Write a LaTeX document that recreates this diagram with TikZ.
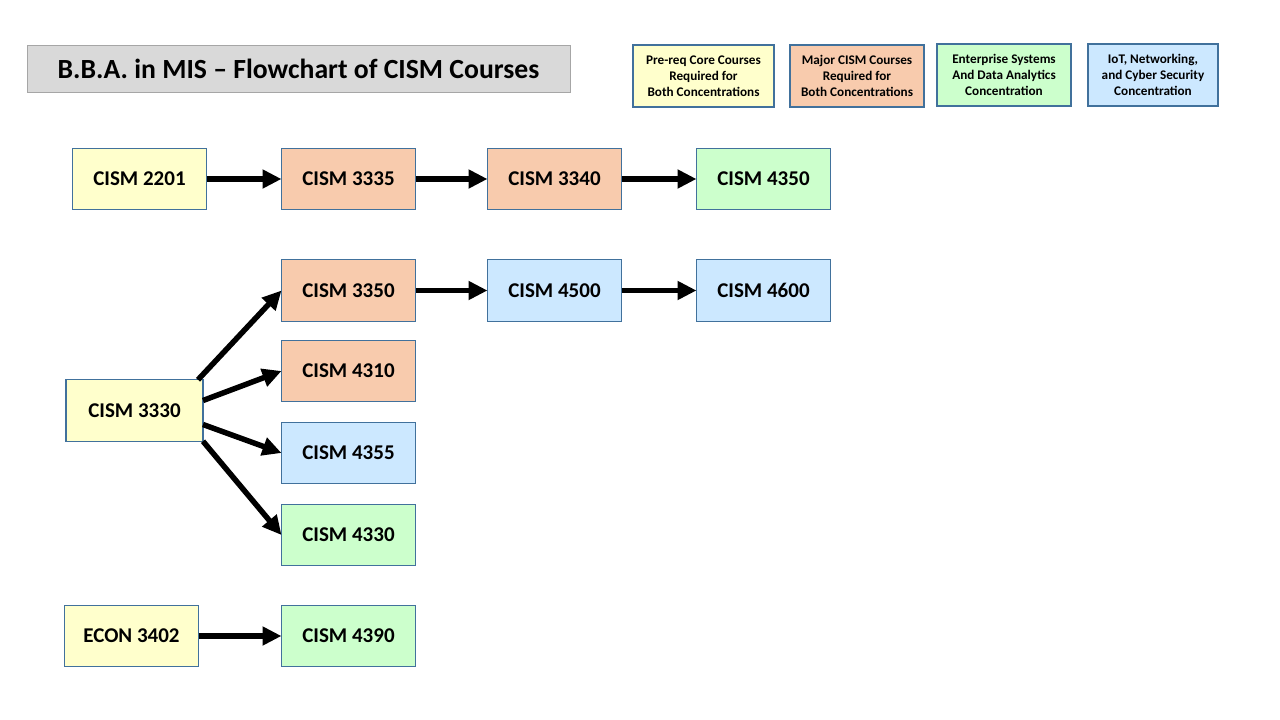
\documentclass[tikz,border=0pt]{standalone}
\usepackage{fontspec}
\setmainfont{Carlito}
\usepackage{tikz}
\usetikzlibrary{arrows.meta,positioning}
\definecolor{edge}{HTML}{41719C}
\definecolor{prereq}{HTML}{FFFFCC}
\definecolor{major}{HTML}{F8CBAD}
\definecolor{ent}{HTML}{CCFFCC}
\definecolor{iot}{HTML}{CCE8FF}
\definecolor{titlegray}{HTML}{D9D9D9}

\begin{document}
\begin{tikzpicture}[x=1pt,y=-1pt,
  node distance=19pt and 73pt,
  course/.style={draw=edge,line width=1.2pt,minimum width=134pt,minimum height=61.5pt,
    inner sep=0pt,outer sep=0pt,font=\bfseries\fontsize{21}{25}\selectfont},
  legend/.style={draw=edge,line width=1.2pt,minimum width=134pt,minimum height=62pt,
    inner sep=0pt,outer sep=0pt,align=center,font=\bfseries\fontsize{13.2}{16}\selectfont},
  arr/.style={-{Triangle[length=19pt,width=18pt]},line width=5.5pt}]
\useasboundingbox (0,0) rectangle (1280,720);
% title and legend
\node[draw=gray!70,fill=titlegray,minimum width=543pt,minimum height=47pt,
  font=\bfseries\fontsize{27.7}{32}\selectfont] (title) at (298.5,68.5)
  {B.B.A. in MIS -- Flowchart of CISM Courses};
\node[legend,fill=prereq,minimum width=141pt] (lgpre) at (703.5,76)
  {Pre-req Core Courses\\Required for\\Both Concentrations};
\node[legend,fill=major] (lgmaj) at (857,76)
  {Major CISM Courses\\Required for\\Both Concentrations};
\node[legend,fill=ent] (lgent) at (1004,75)
  {Enterprise Systems\\And Data Analytics\\Concentration};
\node[legend,fill=iot,minimum width=130pt] (lgiot) at (1153,75)
  {IoT, Networking,\\and Cyber Security\\Concentration};
% courses
\node[course,fill=prereq] (c2201) at (139.5,179) {CISM 2201};
\node[course,fill=major,right=75pt of c2201] (c3335) {CISM 3335};
\node[course,fill=major,right=72pt of c3335] (c3340) {CISM 3340};
\node[course,fill=ent,right=75pt of c3340] (c4350) {CISM 4350};
\node[course,fill=major,below=50pt of c3335] (c3350) {CISM 3350};
\node[course,fill=iot,right=72pt of c3350] (c4500) {CISM 4500};
\node[course,fill=iot,right=75pt of c4500] (c4600) {CISM 4600};
\node[course,fill=major,below=of c3350] (c4310) {CISM 4310};
\node[course,fill=iot,below=20.5pt of c4310] (c4355) {CISM 4355};
\node[course,fill=ent,below=20.5pt of c4355] (c4330) {CISM 4330};
\node[course,fill=prereq,minimum width=137pt] (c3330) at (134.5,410.5) {CISM 3330};
\node[course,fill=prereq] (e3402) at (131.5,636) {ECON 3402};
\node[course,fill=ent] (c4390) at (c3335 |- e3402) {CISM 4390};
% prerequisite arrows
\draw[arr] (c2201)--(c3335); \draw[arr] (c3335)--(c3340); \draw[arr] (c3340)--(c4350);
\draw[arr] (c3350)--(c4500); \draw[arr] (c4500)--(c4600);
\draw[arr] ([xshift=-5pt]c3330.north east)--(c3350.west);
\draw[arr] ([yshift=10pt]c3330.east)--(c4310.west);
\draw[arr] ([yshift=-14pt]c3330.east)--(c4355.west);
\draw[arr] (c3330.south east)--(c4330.west);
\draw[arr] (e3402)--(c4390);
\end{tikzpicture}
\end{document}
